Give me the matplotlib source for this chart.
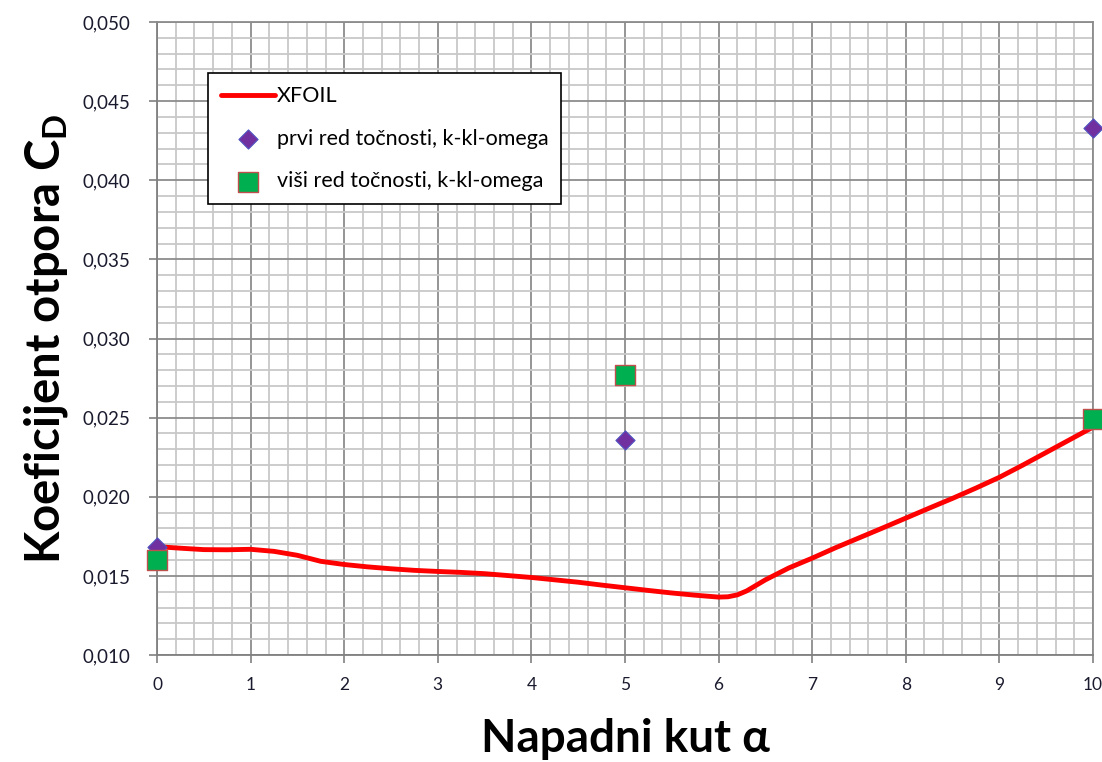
import numpy as np
import matplotlib.pyplot as plt
from matplotlib.ticker import MultipleLocator, FuncFormatter

plt.rcParams['font.family'] = ['Lato', 'DejaVu Sans']
plt.rcParams['mathtext.fontset'] = 'custom'
plt.rcParams['mathtext.rm'] = 'Lato'
plt.rcParams['mathtext.bf'] = 'Lato:bold'

# XFOIL polar
alfa_xfoil = [0.0, 0.25, 0.5, 0.75, 1.0, 1.25, 1.5, 1.75, 2.0, 2.25, 2.5, 2.75,
              3.0, 3.25, 3.5, 3.75, 4.0, 4.25, 4.5, 4.75, 5.0, 5.25, 5.5, 5.75,
              6.0, 6.1, 6.2, 6.3, 6.4, 6.5, 6.75, 7.0, 7.25, 7.5, 7.75, 8.0,
              8.25, 8.5, 8.75, 9.0, 9.25, 9.5, 9.75, 10.0]
cd_xfoil = [0.01685, 0.01675, 0.01666, 0.01665, 0.01668, 0.01655, 0.01630, 0.01592,
            0.01572, 0.01557, 0.01545, 0.01535, 0.01528, 0.01522, 0.01514, 0.01502,
            0.01490, 0.01475, 0.01460, 0.01442, 0.01425, 0.01408, 0.01392, 0.01378,
            0.01366, 0.01368, 0.01380, 0.01405, 0.01440, 0.01475, 0.01550, 0.01612,
            0.01678, 0.01740, 0.01802, 0.01865, 0.01928, 0.01990, 0.02055, 0.02123,
            0.02200, 0.02280, 0.02360, 0.02440]

# CFD rezultati
alfa_cfd = [0, 5, 10]
cd_prvi = [0.0168, 0.0236, 0.0433]
cd_visi = [0.0160, 0.0277, 0.0249]

fig = plt.figure(figsize=(11.02, 7.62), dpi=100)
ax = fig.add_axes([0.1425, 0.1404, 0.8493, 0.8307])

ax.plot(alfa_xfoil, cd_xfoil, color='#FF0000', lw=3.5, label='XFOIL',
        solid_capstyle='round', solid_joinstyle='round', zorder=3)
ax.scatter(alfa_cfd, cd_prvi, marker='D', s=95, color='#7030A0',
           edgecolors='#4F52C0', linewidths=0.8, clip_on=False, zorder=4,
           label='prvi red točnosti, k-kl-omega')
ax.scatter(alfa_cfd, cd_visi, marker='s', s=200, color='#00B050',
           edgecolors='#C0504D', linewidths=1.0, clip_on=False, zorder=5,
           label='viši red točnosti, k-kl-omega')

ax.set_xlim(0, 10)
ax.set_ylim(0.010, 0.050)
ax.xaxis.set_major_locator(MultipleLocator(1))
ax.xaxis.set_minor_locator(MultipleLocator(0.2))
ax.yaxis.set_major_locator(MultipleLocator(0.005))
ax.yaxis.set_minor_locator(MultipleLocator(0.001))
ax.yaxis.set_major_formatter(FuncFormatter(lambda v, p: f"{v:.3f}".replace('.', ',')))

ax.grid(which='minor', color='#C8C8C8', lw=1.3, zorder=0)
ax.grid(which='major', color='#8C8C8C', lw=1.3, zorder=1)
ax.set_axisbelow(True)

for s in ['top', 'right']:
    ax.spines[s].set_color('#8C8C8C')
    ax.spines[s].set_linewidth(1.3)
for s in ['left', 'bottom']:
    ax.spines[s].set_color('#808080')
    ax.spines[s].set_linewidth(1.3)

ax.tick_params(which='major', direction='out', length=6, width=1.2,
               color='#808080', labelsize=13.5, labelcolor='#1A1A2E')
ax.tick_params(axis='y', pad=13)
ax.tick_params(axis='x', pad=10, labelsize=12.5)
ax.tick_params(which='minor', length=0)

ax.set_xlabel('Napadni kut α', fontsize=33, fontweight='bold', labelpad=18)
ax.set_ylabel(r'Koeficijent otpora C$_\mathbf{D}$', fontsize=34,
              fontweight='bold', labelpad=9)

leg = ax.legend(loc='upper left', bbox_to_anchor=(0.0545, 0.919), fontsize=15.5,
                frameon=True, fancybox=False, edgecolor='black', framealpha=1,
                handlelength=2.5, labelspacing=1.05, borderpad=0.6,
                handletextpad=0.1, scatterpoints=1, borderaxespad=0)
leg.get_frame().set_linewidth(1.2)

fig.savefig('out.png', dpi=100)
